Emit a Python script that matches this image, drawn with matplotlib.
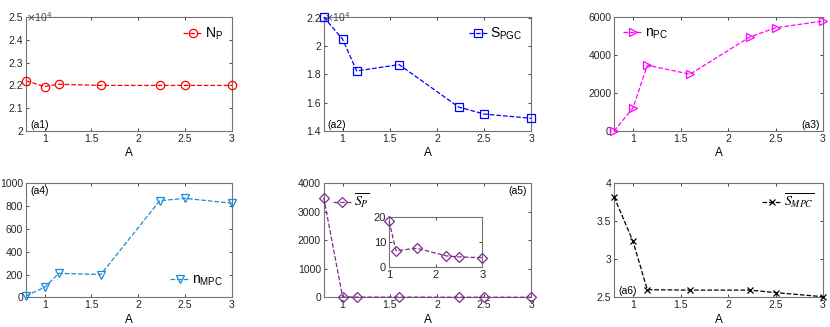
import numpy as np
import matplotlib.pyplot as plt
from matplotlib.font_manager import FontProperties

# Datos comunes del eje x
A = [0.8, 1.0, 1.15, 1.6, 2.23, 2.5, 3.0]

N_P = [2.22, 2.195, 2.205, 2.2, 2.2, 2.2, 2.2]          # x 10^4
S_PGC = [2.207, 2.05, 1.825, 1.87, 1.57, 1.52, 1.49]    # x 10^4
n_PC = [0, 1220, 3460, 2990, 4950, 5430, 5790]
n_MPC = [12, 88, 210, 200, 848, 868, 825]
S_P = [3500, 18.3, 6.6, 7.5, 4.5, 4.1, 3.8]
S_MPC = [3.824, 3.235, 2.6, 2.595, 2.595, 2.562, 2.508]

plt.rcParams['font.family'] = ['Liberation Sans', 'DejaVu Sans']
plt.rcParams['font.size'] = 7.5

fig = plt.figure(figsize=(8.3, 3.27), dpi=100)

lefts = [0.0313, 0.39, 0.7398]
widths = [0.248, 0.25, 0.2518]
bottoms = [0.5994, 0.0908]
h = 0.3486


def estilo(ax, ls=7.5):
    ax.tick_params(direction='in', top=True, right=True, length=2.5,
                   width=0.6, colors='0.15', labelsize=ls, pad=2)
    for s in ax.spines.values():
        s.set_color('0.45')
        s.set_linewidth(0.8)


def panel(ax, y, color, marker, label, etiqueta, pos_et, loc, ylim, yticks,
          ms=6, prop=None):
    ax.plot(A, y, linestyle='--', color=color, marker=marker, ms=ms,
            mfc='none', mew=0.9, lw=0.9, label=label, clip_on=False, zorder=5)
    ax.set_xlim(0.8, 3)
    ax.set_ylim(*ylim)
    ax.set_xticks([1, 1.5, 2, 2.5, 3])
    ax.set_xticklabels(['1', '1.5', '2', '2.5', '3'])
    ax.set_yticks(yticks)
    ax.set_xlabel('A', fontsize=8.5, labelpad=2.5)
    estilo(ax)
    ax.text(pos_et[0], pos_et[1], etiqueta, transform=ax.transAxes,
            fontsize=7.5, ha='left' if pos_et[0] < 0.5 else 'right',
            va='bottom' if pos_et[1] < 0.5 else 'top')
    leg = ax.legend(loc=loc, frameon=False, handlelength=1.4, handletextpad=0.15,
                    borderaxespad=0.25, prop=prop, fontsize=10 if prop is None else None)
    return leg


axs = []
for r in range(2):
    for c in range(3):
        axs.append(fig.add_axes([lefts[c], bottoms[r], widths[c], h]))

# (a1)
panel(axs[0], N_P, 'red', 'o', r'N$_\mathregular{P}$', '(a1)', (0.02, 0.01),
      'upper right', (2, 2.5), [2, 2.1, 2.2, 2.3, 2.4, 2.5])
axs[0].set_yticklabels(['2', '2.1', '2.2', '2.3', '2.4', '2.5'])
axs[0].text(0.0, 1.0, r'$\times$10$^4$', transform=axs[0].transAxes,
            fontsize=7.5, va='center', ha='left', color='0.3')

# (a2)
panel(axs[1], S_PGC, 'blue', 's', r'S$_\mathregular{PGC}$', '(a2)', (0.02, 0.01),
      'upper right', (1.4, 2.207), [1.4, 1.6, 1.8, 2.0, 2.2], ms=5.5)
axs[1].set_yticklabels(['1.4', '1.6', '1.8', '2', '2.2'])
axs[1].text(0.0, 1.0, r'$\times$10$^4$', transform=axs[1].transAxes,
            fontsize=7.5, va='center', ha='left', color='0.3')

# (a3)
panel(axs[2], n_PC, 'magenta', '>', r'n$_\mathregular{PC}$', '(a3)', (0.985, 0.01),
      'upper left', (0, 6000), [0, 2000, 4000, 6000])

# (a4)
panel(axs[3], n_MPC, '#1a8ad4', 'v', r'n$_\mathregular{MPC}$', '(a4)', (0.02, 0.98),
      'lower right', (0, 1000), [0, 200, 400, 600, 800, 1000])

# (a5)
fp = FontProperties(family=['Liberation Sans', 'DejaVu Sans'], size=10,
                    math_fontfamily='stix')
panel(axs[4], S_P, '#7e2f8e', 'D', r'$\overline{S_P}$', '(a5)', (0.98, 0.98),
      'upper left', (0, 4000), [0, 1000, 2000, 3000, 4000], ms=5, prop=fp)

# Recuadro interior de (a5)
ins = fig.add_axes([0.4687, 0.1826, 0.1124, 0.1547])
ins.plot(A[1:], S_P[1:], linestyle='--', color='#7e2f8e', marker='D', ms=5,
         mfc='none', mew=0.9, lw=0.9, clip_on=False, zorder=5)
ins.set_xlim(1, 3)
ins.set_ylim(0, 20)
ins.set_xticks([1, 2, 3])
ins.set_yticks([0, 10, 20])
estilo(ins, ls=8)

# (a6)
panel(axs[5], S_MPC, 'black', 'x', r'$\overline{S_{MPC}}$', '(a6)', (0.02, 0.01),
      'upper right', (2.5, 4), [2.5, 3, 3.5, 4], ms=4, prop=fp)
axs[5].set_yticklabels(['2.5', '3', '3.5', '4'])

fig.savefig('out.png', dpi=100)
